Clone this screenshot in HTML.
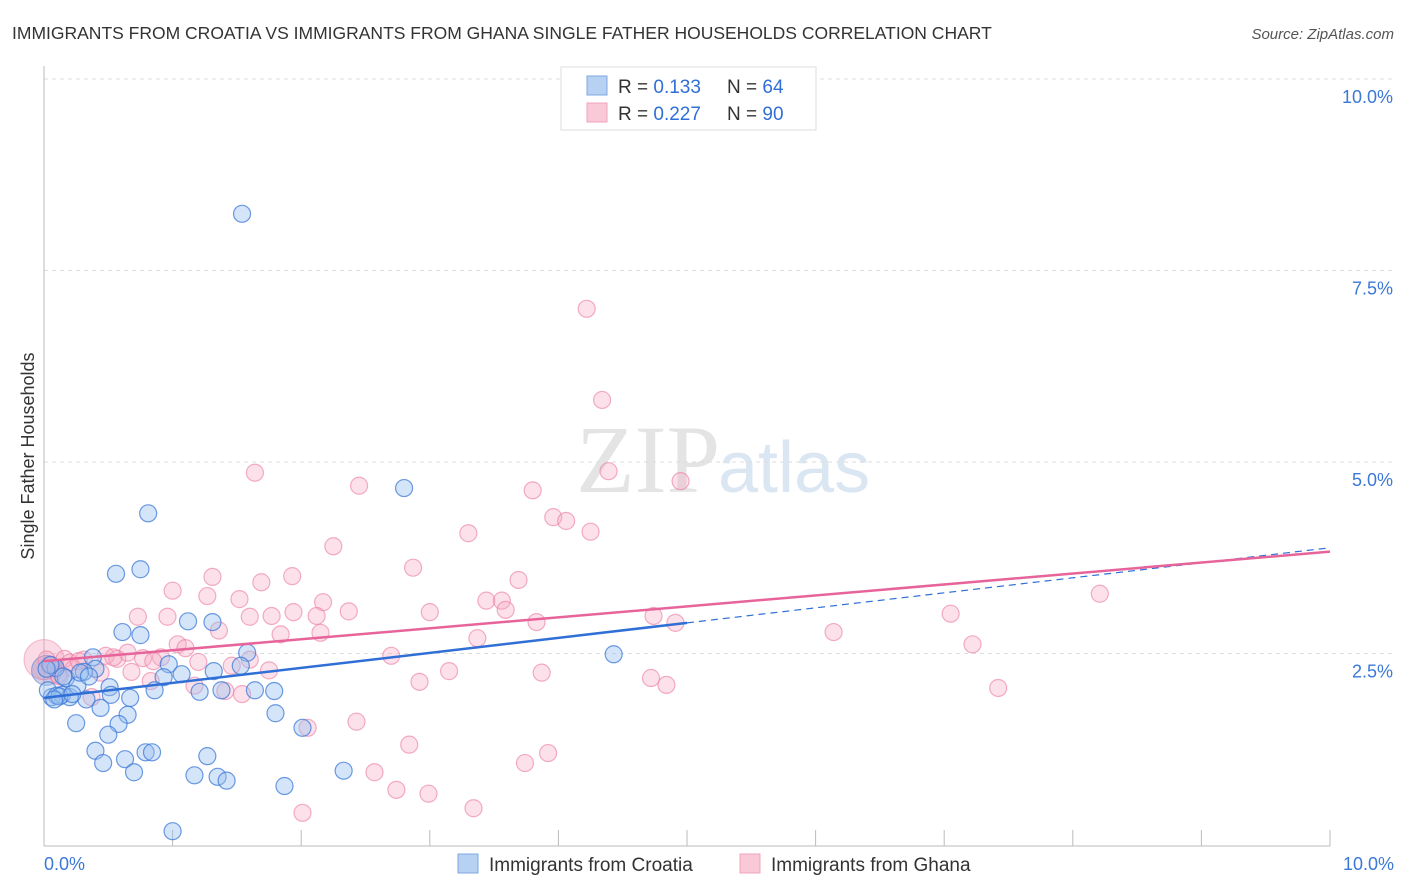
<!DOCTYPE html>
<html><head><meta charset="utf-8"><style>
body{margin:0;background:#fff;font-family:"Liberation Sans",sans-serif;}
svg{display:block}
</style></head><body>
<svg id="chart" width="1406" height="892">
<text x="12" y="39" font-size="17.5" fill="#333">IMMIGRANTS FROM CROATIA VS IMMIGRANTS FROM GHANA SINGLE FATHER HOUSEHOLDS CORRELATION CHART</text>
<text x="1394" y="39" font-size="15" fill="#555" font-style="italic" text-anchor="end">Source: ZipAtlas.com</text>
<text x="720" y="492" font-size="96" font-family="Liberation Serif,serif" fill="#e4e4e4" text-anchor="end">ZIP</text>
<text x="718" y="492" font-size="72" fill="#dbe6f3">atlas</text>
<g id="grid"></g>
<g id="pts"></g>
<g id="lines"></g>
<text transform="translate(34,456) rotate(-90)" font-size="18" fill="#333" text-anchor="middle">Single Father Households</text>
<g>
<rect x="561" y="67" width="255" height="63" fill="#fff" stroke="#ddd"/>
<rect x="587" y="76" width="20" height="19" fill="#b7d1f3" stroke="#7fa8e0"/>
<rect x="587" y="103" width="20" height="19" fill="#f9c9d7" stroke="#f0a3bb"/>
<text x="618" y="93" font-size="19" fill="#333">R = <tspan fill="#2f6fd6">0.133</tspan><tspan x="727">N = </tspan><tspan fill="#2f6fd6">64</tspan></text>
<text x="618" y="120" font-size="19" fill="#333">R = <tspan fill="#2f6fd6">0.227</tspan><tspan x="727">N = </tspan><tspan fill="#2f6fd6">90</tspan></text>
</g>
<g>
<rect x="458" y="854" width="20" height="19" fill="#b7d1f3" stroke="#7fa8e0"/>
<text x="489" y="871" font-size="19" fill="#333">Immigrants from Croatia</text>
<rect x="740" y="854" width="20" height="19" fill="#f9c9d7" stroke="#f0a3bb"/>
<text x="771" y="871" font-size="19" fill="#333">Immigrants from Ghana</text>
</g>
</svg>
<script>
const yTicks=[2.5,5.0,7.5,10.0];
const yTickLabels=["2.5%","5.0%","7.5%","10.0%"];
const xTickLabels=["0.0%","10.0%"];
const croatiaX=[1.54,2.80,0.81,0.75,0.56,0.61,0.75,1.12,1.31,1.58,1.53,1.32,0.97,0.93,1.07,0.38,0.40,0.31,0.17,0.09,0.06,0.14,0.20,0.26,0.33,0.51,0.52,0.67,0.86,1.21,1.38,1.64,1.79,0.44,0.65,1.80,0.25,0.58,0.50,2.01,0.40,0.63,0.46,0.79,0.84,1.27,0.70,1.17,1.35,1.42,1.87,2.33,1.00,4.43,0.05,0.03,0.10,0.12,0.22,0.28,0.35,0.08,0.15,0.02];
const croatiaY=[8.24,4.66,4.33,3.60,3.54,2.78,2.74,2.92,2.91,2.51,2.34,2.27,2.36,2.19,2.23,2.45,2.30,2.26,2.18,2.31,1.93,1.96,1.93,2.08,1.90,2.06,1.96,1.92,2.02,2.00,2.02,2.02,2.01,1.79,1.70,1.72,1.59,1.58,1.44,1.53,1.23,1.12,1.07,1.21,1.21,1.16,0.95,0.91,0.89,0.84,0.77,0.97,0.18,2.49,2.35,2.02,1.95,1.94,1.97,2.25,2.20,1.90,2.20,2.30];
const ghanaX=[4.22,4.34,4.39,4.95,1.64,2.45,3.80,3.96,4.06,4.25,3.30,2.25,2.87,3.69,1.31,1.69,1.93,1.00,1.27,1.52,2.17,3.44,3.56,8.21,0.73,0.96,1.60,1.77,1.94,2.12,2.37,3.00,3.59,4.74,4.91,3.83,7.05,6.14,7.22,1.36,1.84,2.15,1.04,1.10,3.37,0.16,0.31,0.48,0.57,0.65,0.77,0.91,1.60,2.70,0.02,0.09,0.23,0.68,1.46,1.75,3.15,3.87,4.72,4.84,7.42,2.92,0.83,1.17,1.41,1.54,0.37,2.05,2.43,2.84,3.92,3.74,2.57,2.74,2.99,3.34,2.01,0.11,0.44,0.05,0.20,0.27,0.54,0.85,1.20,0.12];
const ghanaY=[7.00,5.81,4.88,4.75,4.86,4.69,4.63,4.28,4.23,4.09,4.07,3.90,3.62,3.46,3.50,3.43,3.51,3.32,3.25,3.21,3.17,3.19,3.19,3.28,2.98,2.98,2.98,2.99,3.04,2.99,3.05,3.04,3.07,2.99,2.90,2.91,3.02,2.78,2.62,2.80,2.75,2.77,2.62,2.57,2.70,2.43,2.42,2.47,2.43,2.51,2.44,2.45,2.42,2.47,2.42,2.31,2.30,2.26,2.34,2.28,2.27,2.25,2.18,2.09,2.05,2.13,2.14,2.08,2.01,1.97,1.93,1.53,1.61,1.31,1.20,1.07,0.95,0.72,0.67,0.48,0.42,2.22,2.25,2.35,2.38,2.40,2.45,2.40,2.39,2.20];
const croatiaTrend=[1.92,0.196]; // intercept, slope per 1%
const ghanaTrend=[2.40,0.143];
const NS="http://www.w3.org/2000/svg";
const X=v=>44+v*128.6, Y=v=>845-v*76.6;
function mk(t,a,p){const e=document.createElementNS(NS,t);for(const k in a)e.setAttribute(k,a[k]);p.appendChild(e);return e;}
const grid=document.getElementById('grid');
yTicks.forEach((t,i)=>{
 const l=mk('line',{x1:44,x2:1394,y1:Y(t),y2:Y(t),stroke:'#ddd','stroke-dasharray':'4,4'},grid);
 
 
 const tx=mk('text',{x:1393,y:Y(t)+24,'font-size':18,fill:'#3b78d8','text-anchor':'end'},grid);
 tx.textContent=yTickLabels[i];
 
 
});
const ax=mk('line',{x1:44,x2:44,y1:66,y2:846,stroke:'#bbb'},grid);


const bx=mk('line',{x1:44,x2:1330,y1:846,y2:846,stroke:'#bbb'},grid);


for(let i=1;i<=10;i++){const t=mk('line',{x1:X(i),x2:X(i),y1:830,y2:846,stroke:'#bbb'},grid);
 
 }
[[0,'start',44],[10,'end',1394]].forEach((d,i)=>{const t=mk('text',{x:d[2],y:870,'font-size':18,fill:'#3b78d8','text-anchor':d[1]},grid);t.textContent=xTickLabels[i];
 
 });
const pts=document.getElementById('pts');
const big1=mk('circle',{cx:X(0),cy:Y(2.42),r:20,fill:'rgba(240,150,180,0.35)',stroke:'rgba(236,120,160,0.5)'},pts);


const big2=mk('circle',{cx:X(0.02),cy:Y(2.28),r:15,fill:'rgba(150,130,190,0.4)',stroke:'rgba(80,130,210,0.6)'},pts);


ghanaX.forEach((x,i)=>{const c=mk('circle',{cx:X(x),cy:Y(ghanaY[i]),r:8.5,fill:'rgba(246,170,196,0.35)',stroke:'rgba(236,130,165,0.65)','stroke-width':1.2},pts);
 
 });
croatiaX.forEach((x,i)=>{const c=mk('circle',{cx:X(x),cy:Y(croatiaY[i]),r:8.5,fill:'rgba(150,190,240,0.4)',stroke:'rgba(60,120,215,0.75)','stroke-width':1.2},pts);
 
 });
const lines=document.getElementById('lines');
const f=(t,x)=>t[0]+t[1]*x;
const l1=mk('line',{x1:X(0),y1:Y(f(croatiaTrend,0)),x2:X(5),y2:Y(f(croatiaTrend,5)),stroke:'#2f6fd6','stroke-width':2.5},lines);


const l2=mk('line',{x1:X(5),y1:Y(f(croatiaTrend,5)),x2:X(10),y2:Y(f(croatiaTrend,10)),stroke:'#2f6fd6','stroke-width':1.2,'stroke-dasharray':'7,5'},lines);


const l3=mk('line',{x1:X(0),y1:Y(f(ghanaTrend,0)),x2:X(10),y2:Y(f(ghanaTrend,10)),stroke:'#e7649a','stroke-width':2.5},lines);


</script>
</body></html>
